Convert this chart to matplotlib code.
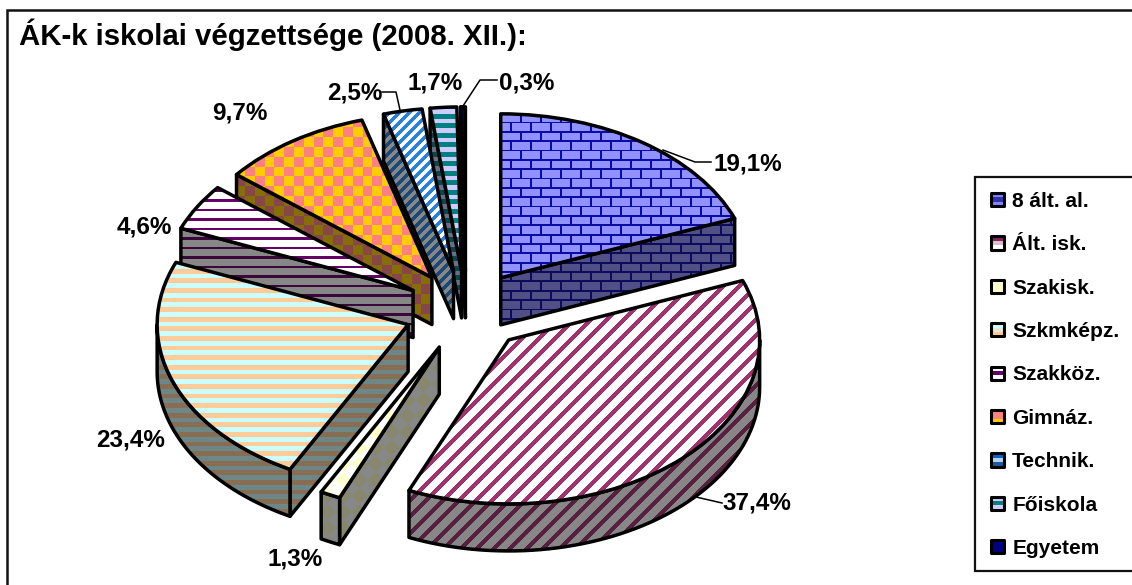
import numpy as np
import matplotlib
matplotlib.use("Agg")
import matplotlib.pyplot as plt
from matplotlib.patches import Patch, Polygon, Rectangle
from matplotlib.legend_handler import HandlerBase

plt.rcParams["font.family"] = ["Liberation Sans", "DejaVu Sans"]
plt.rcParams["font.weight"] = "bold"

# data
labels = ["8 ált. al.", "Ált. isk.", "Szakisk.", "Szkmképz.", "Szakköz.", "Gimnáz.", "Technik.", "Főiskola", "Egyetem"]
values = [19.1, 37.4, 1.3, 23.4, 4.6, 9.7, 2.5, 1.7, 0.3]
value_labels = ["19,1%", "37,4%", "1,3%", "23,4%", "4,6%", "9,7%", "2,5%", "1,7%", "0,3%"]
title = "ÁK-k iskolai végzettsége (2008. XII.):"

# where the pie sits on the 1132x585 canvas (pixels)
W, H = 1132, 585
CX, CY, RX, RY = 466, 311, 251, 164
DEPTH = 47 / RY
EXPLODE = 0.245
EDGE = 2.5

fig = plt.figure(figsize=(W / 100, H / 100), dpi=100)
ax = fig.add_axes([0, 0, 1, 1])


def px(x, y):
    # canvas pixel -> data coordinates of the pie
    return (x - CX) / RX, (CY - y) / RY


# fill patterns on the pixel grid
yy, xx = np.mgrid[0:H, 0:W] + 0.5


def two(mask, a, b):
    a = np.array(a) / 255
    b = np.array(b) / 255
    return np.where(mask[..., None], a, b)


def bricks():
    row = np.floor(yy / 9.35)
    mortar = (yy % 9.35 < 1.8) | ((xx + 10 * (row % 2)) % 20 < 1.8)
    return two(mortar, (10, 10, 165), (145, 145, 255))


def diagonal(period, width, fg, bg=(255, 255, 255)):
    return two((xx + yy) % period < width, fg, bg)


def stripes(period, width, fg, bg):
    return two(yy % period < width, fg, bg)


def diamonds():
    a = np.floor((xx + yy) / 16) + np.floor((xx - yy) / 16)
    return two(a % 2 == 0, (255, 255, 204), (255, 255, 255))


def checker():
    a = np.floor(xx / 9.8) + np.floor(yy / 9.8)
    return two(a % 2 == 0, (255, 128, 128), (255, 204, 0))


patterns = [
    bricks(),
    diagonal(16.5, 6, (160, 50, 110)),
    diamonds(),
    stripes(9.6, 4.8, (255, 204, 153), (204, 255, 255)),
    stripes(9.5, 2.2, (102, 0, 102), (255, 255, 255)),
    checker(),
    diagonal(10, 5, (40, 130, 220)),
    stripes(9.5, 4.8, (0, 128, 128), (204, 204, 255)),
    two(yy > -1, (0, 0, 128), (0, 0, 128)),
]

wedges, _ = ax.pie(values, explode=[EXPLODE] * len(values), startangle=90, counterclock=False, radius=1,
                   wedgeprops=dict(facecolor="none", edgecolor="black", linewidth=EDGE))

x0, y1 = px(0, 0)
x1, y0 = px(W, H)
extent = (x0, x1, y0, y1)


def wall_point(w, a):
    t = np.radians(90 - a)
    return w.center[0] + np.cos(t), w.center[1] + np.sin(t)


def textured(poly_or_wedge, image, z):
    im = ax.imshow(image, extent=extent, aspect="auto", origin="upper", zorder=z, interpolation="bilinear")
    im.set_clip_path(poly_or_wedge)
    poly_or_wedge.set_zorder(z + 0.1)


# back slices first, the front ones paint over them
z = 1
for i in range(len(values) - 1, -1, -1):
    w = wedges[i]
    a0, a1 = 90 - w.theta2, 90 - w.theta1
    walls = []
    cx, cy = w.center
    for a, visible in ((a0, a0 >= 180), (a1, a1 <= 180)):
        if visible:
            ex, ey = wall_point(w, a)
            walls.append([(cx, cy), (ex, ey), (ex, ey - DEPTH), (cx, cy - DEPTH)])
    lo, hi = max(a0, 90), min(a1, 270)
    if hi > lo:
        arc = [wall_point(w, a) for a in np.linspace(lo, hi, 60)]
        walls.append(arc + [(p[0], p[1] - DEPTH) for p in arc[::-1]])
    for pts in walls:
        poly = Polygon(pts, closed=True, facecolor="none", edgecolor="black", linewidth=EDGE, joinstyle="round")
        ax.add_patch(poly)
        textured(poly, patterns[i] * 0.5 + 0.03, z)
        z += 1
    textured(w, patterns[i], z)
    w.set_joinstyle("round")
    z += 1

top = z + 5

# leader lines
leaders = [
    [(663, 150), (695, 162), (711, 162)],
    [(696, 497), (722, 503)],
    [(400, 110), (396, 92), (382, 92)],
    [(463, 106), (480, 80), (497, 80)],
]
for line in leaders:
    p = np.array([px(*q) for q in line])
    ax.plot(p[:, 0], p[:, 1], color="black", lw=1.1, zorder=top)

# value labels, placed by hand like in the original
label_pos = [(748, 164), (757, 503), (295, 559), (131, 440), (144, 227), (240, 113), (355, 93), (435, 83), (527, 83)]
for txt, (lx, ly) in zip(value_labels, label_pos):
    tx, ty = px(lx, ly)
    ax.text(tx, ty, txt, fontsize=17.5, ha="center", va="center", zorder=top, color="black")

tx, ty = px(19, 35)
ax.text(tx, ty, title, fontsize=21.2, ha="left", va="center", zorder=top)

# outer frame: only the left and top lines are inside the picture
f = np.array([px(7, H + 5), px(7, 10), px(W + 5, 10)])
ax.plot(f[:, 0], f[:, 1], color="#111111", lw=1.8, zorder=top, solid_joinstyle="miter")

# legend box, runs off the right side of the picture
lx0, ly0 = px(975, 571)
lx1, ly1 = px(W + 5, 177)
ax.add_patch(Rectangle((lx0, ly0), lx1 - lx0, ly1 - ly0, facecolor="white", edgecolor="#111111", linewidth=1.6,
                       zorder=top))

# legend keys: small box with a top / middle / bottom band
key_bands = [
    [(130, 130, 255), (50, 50, 170), (130, 130, 255)],
    [(128, 40, 90), (220, 190, 205), (255, 255, 255)],
    [(255, 255, 204), (255, 255, 204), (255, 255, 204)],
    [(204, 255, 255), (230, 230, 210), (255, 204, 153)],
    [(255, 255, 255), (102, 0, 102), (255, 255, 255)],
    [(255, 128, 128), (255, 128, 128), (255, 204, 0)],
    [(0, 102, 204), (180, 210, 240), (30, 90, 160)],
    [(204, 204, 255), (0, 128, 128), (204, 204, 255)],
    [(0, 0, 128), (0, 0, 128), (0, 0, 128)],
]


class KeyHandler(HandlerBase):
    def create_artists(self, legend, orig, xd, yd, width, height, fontsize, trans):
        bands = orig.bands
        arts = []
        for k in range(3):
            r = Rectangle((xd, -yd + height * (2 - k) / 3), width, height / 3, facecolor=np.array(bands[k]) / 255,
                          edgecolor="none", transform=trans)
            arts.append(r)
        arts.append(Rectangle((xd, -yd), width, height, facecolor="none", edgecolor="black", linewidth=2.2,
                              joinstyle="round", transform=trans))
        return arts


handles = []
for lab, b in zip(labels, key_bands):
    h = Patch(label=lab)
    h.bands = b
    handles.append(h)

leg = ax.legend(handles=handles, loc="upper left", bbox_to_anchor=(991 / W, 1 - 192 / H), fontsize=15,
                handler_map={Patch: KeyHandler()}, handlelength=0.6, handleheight=0.6, handletextpad=0.42,
                labelspacing=1.17, borderpad=0, borderaxespad=0, frameon=False)
leg.set_zorder(top + 1)

ax.set_aspect("auto")
ax.set_xlim(x0, x1)
ax.set_ylim(y0, y1)
ax.axis("off")

fig.savefig("out.png", dpi=100, facecolor="white")
